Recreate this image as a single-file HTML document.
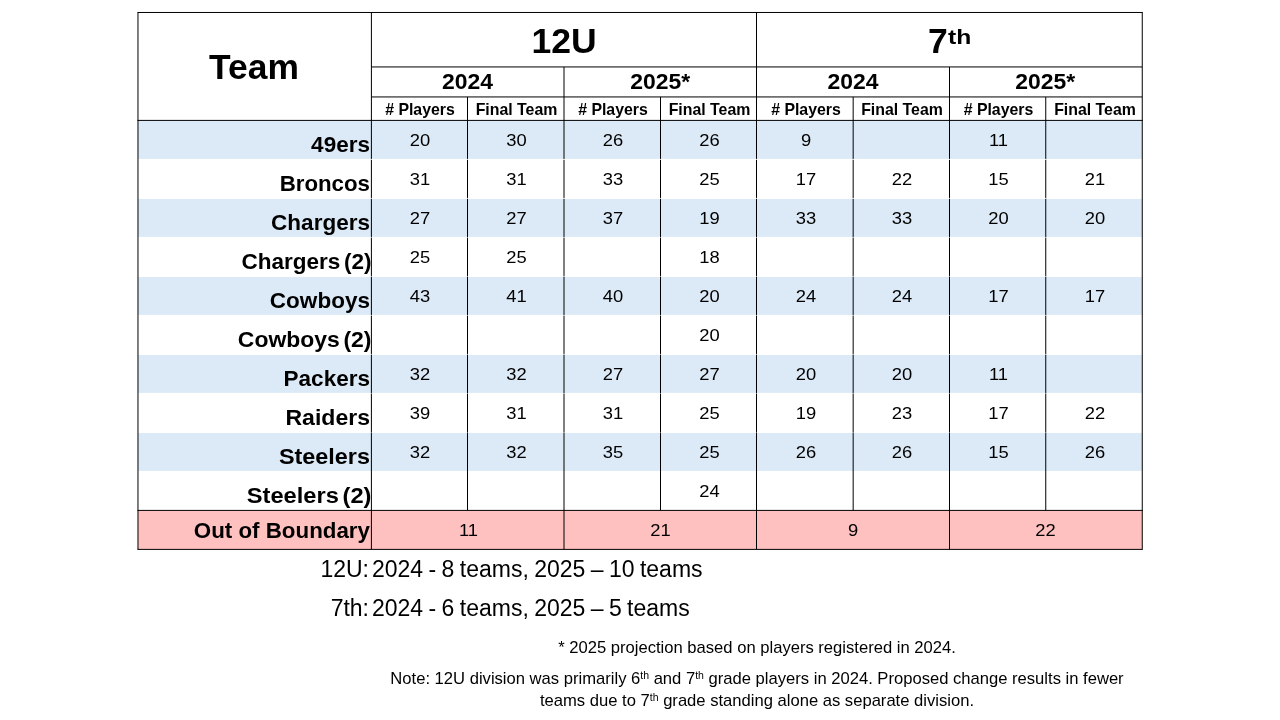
<!DOCTYPE html>
<html lang="en">
<head>
<meta charset="utf-8">
<title>Team counts: 12U and 7th</title>
<style>
*{box-sizing:border-box;margin:0;padding:0}
html,body{width:1280px;height:720px;background:#fff;overflow:hidden}
body{font-family:"Liberation Sans",sans-serif;color:#000}
.slide{position:relative;width:1280px;height:720px;background:#fff;overflow:hidden}
svg.rules{position:absolute;left:0;top:0;width:1280px;height:720px;display:block}
table.grid{position:absolute;left:138px;top:13px;width:1004px;border-collapse:separate;border-spacing:0;table-layout:fixed}
.grid th,.grid td{border:0;padding:0;text-align:center;vertical-align:top;font-weight:400;white-space:nowrap;overflow:hidden;position:relative}
.grid span{display:block;position:absolute;left:0;right:0;white-space:nowrap}
.h1 th{height:54px}
.h2 th{height:30px}
.h3 th{height:24px}
th.team{font-weight:700;font-size:35.4px}
th.team span{top:34px;line-height:40px;left:-1px}
th.div{font-weight:700;font-size:34.67px}
th.div span{top:8px;line-height:40px;transform:scaleX(1.025)}
th.div sup{display:inline-block;font-size:20.6px;line-height:0;vertical-align:baseline;position:relative;top:-9px;transform:scaleX(1.17);transform-origin:0 50%;margin-right:3px}
.h2 th{font-weight:700;font-size:22px}
.h2 th span{top:3px;line-height:24px;transform:scaleX(1.042)}
.h2 th.star span{left:-1.5px}
.h3 th{font-weight:700;font-size:16.2px}
.h3 th span{top:3px;line-height:18px;left:.5px;right:-.5px;transform:scaleX(0.98)}
.grid tbody th,.grid tbody td{height:39px}
tbody th.name{font-weight:700;font-size:21.3px;text-align:right}
tbody th.name span{right:1px;bottom:3px;line-height:24px;transform:scaleX(var(--sx,1.058));transform-origin:100% 50%}
tbody th.alt span{word-spacing:-2.5px;right:-.5px}
tbody td{font-size:17px}
.grid tbody td span{top:10px;line-height:20px;left:2px;transform:scaleX(1.08)}
tr.oob th.name span{bottom:7px}
.grid tr.oob td span{left:0}
.grid tr.oob td:nth-child(2) span{left:2px}
.sum{position:absolute;left:0;width:1280px;height:28px;font-size:23px;word-spacing:-1px;line-height:28px;white-space:nowrap;color:#000}
.sum .k{position:absolute;right:911px;text-align:right}
.sum .v{position:absolute;left:372px}
.s1{top:555px}
.s2{top:594px}
.note{position:absolute;left:0;width:1514px;text-align:center;font-size:16.6px;line-height:20px;white-space:nowrap;color:#000}
.note sup{font-size:10.5px;line-height:0;vertical-align:baseline;position:relative;top:-5px}
.n1{top:638px}
.n2{top:669px}
.n3{top:691px}
</style>
</head>
<body>
<div class="slide">
<svg class="rules" width="1280" height="720" viewBox="0 0 1280 720" aria-hidden="true">
<rect x="137.97" y="120.4" width="1004.28" height="39" fill="#dceaf7"/>
<rect x="137.97" y="198.4" width="1004.28" height="39" fill="#dceaf7"/>
<rect x="137.97" y="276.4" width="1004.28" height="39" fill="#dceaf7"/>
<rect x="137.97" y="354.4" width="1004.28" height="39" fill="#dceaf7"/>
<rect x="137.97" y="432.4" width="1004.28" height="39" fill="#dceaf7"/>
<rect x="137.97" y="510.4" width="1004.28" height="39" fill="#ffc0c0"/>
<line x1="137.97" x2="1142.25" y1="159.4" y2="159.4" stroke="#fff" stroke-width="1"/>
<line x1="137.97" x2="1142.25" y1="198.4" y2="198.4" stroke="#fff" stroke-width="1"/>
<line x1="137.97" x2="1142.25" y1="237.4" y2="237.4" stroke="#fff" stroke-width="1"/>
<line x1="137.97" x2="1142.25" y1="276.4" y2="276.4" stroke="#fff" stroke-width="1"/>
<line x1="137.97" x2="1142.25" y1="315.4" y2="315.4" stroke="#fff" stroke-width="1"/>
<line x1="137.97" x2="1142.25" y1="354.4" y2="354.4" stroke="#fff" stroke-width="1"/>
<line x1="137.97" x2="1142.25" y1="393.4" y2="393.4" stroke="#fff" stroke-width="1"/>
<line x1="137.97" x2="1142.25" y1="432.4" y2="432.4" stroke="#fff" stroke-width="1"/>
<line x1="137.97" x2="1142.25" y1="471.4" y2="471.4" stroke="#fff" stroke-width="1"/>
<g stroke="#000" stroke-width="1" fill="none">
<line x1="137.47" x2="1142.75" y1="12.47" y2="12.47"/>
<line x1="371.4" x2="1142.25" y1="66.94" y2="66.94"/>
<line x1="371.4" x2="1142.25" y1="96.94" y2="96.94"/>
<line x1="137.47" x2="1142.75" y1="120.4" y2="120.4"/>
<line x1="137.47" x2="1142.75" y1="510.4" y2="510.4"/>
<line x1="137.47" x2="1142.75" y1="549.4" y2="549.4"/>
<line x1="137.97" x2="137.97" y1="12.47" y2="549.4"/>
<line x1="371.4" x2="371.4" y1="12.47" y2="549.4"/>
<line x1="467.5" x2="467.5" y1="96.94" y2="510.4"/>
<line x1="564" x2="564" y1="66.94" y2="549.4"/>
<line x1="660.5" x2="660.5" y1="96.94" y2="510.4"/>
<line x1="756.5" x2="756.5" y1="12.47" y2="549.4"/>
<line x1="853.16" x2="853.16" y1="96.94" y2="510.4"/>
<line x1="949.5" x2="949.5" y1="66.94" y2="549.4"/>
<line x1="1045.75" x2="1045.75" y1="96.94" y2="510.4"/>
<line x1="1142.25" x2="1142.25" y1="12.47" y2="549.4"/>
</g>
<path d="M370.4 159.4h2 M466.5 159.4h2 M563 159.4h2 M659.5 159.4h2 M755.5 159.4h2 M852.16 159.4h2 M948.5 159.4h2 M1044.75 159.4h2" stroke="#fff" stroke-width="1" stroke-opacity="0.9" fill="none"/>
<path d="M370.4 198.4h2 M466.5 198.4h2 M563 198.4h2 M659.5 198.4h2 M755.5 198.4h2 M852.16 198.4h2 M948.5 198.4h2 M1044.75 198.4h2" stroke="#fff" stroke-width="1" stroke-opacity="0.8" fill="none"/>
<path d="M370.4 237.4h2 M466.5 237.4h2 M563 237.4h2 M659.5 237.4h2 M755.5 237.4h2 M852.16 237.4h2 M948.5 237.4h2 M1044.75 237.4h2" stroke="#fff" stroke-width="1" stroke-opacity="0.6" fill="none"/>
<path d="M370.4 276.4h2 M466.5 276.4h2 M563 276.4h2 M659.5 276.4h2 M755.5 276.4h2 M852.16 276.4h2 M948.5 276.4h2 M1044.75 276.4h2" stroke="#fff" stroke-width="1" stroke-opacity="0.6" fill="none"/>
<path d="M370.4 315.4h2 M466.5 315.4h2 M563 315.4h2 M659.5 315.4h2 M755.5 315.4h2 M852.16 315.4h2 M948.5 315.4h2 M1044.75 315.4h2" stroke="#fff" stroke-width="1" stroke-opacity="0.6" fill="none"/>
<path d="M370.4 354.4h2 M466.5 354.4h2 M563 354.4h2 M659.5 354.4h2 M755.5 354.4h2 M852.16 354.4h2 M948.5 354.4h2 M1044.75 354.4h2" stroke="#fff" stroke-width="1" stroke-opacity="0.6" fill="none"/>
<path d="M370.4 393.4h2 M466.5 393.4h2 M563 393.4h2 M659.5 393.4h2 M755.5 393.4h2 M852.16 393.4h2 M948.5 393.4h2 M1044.75 393.4h2" stroke="#fff" stroke-width="1" stroke-opacity="0.5" fill="none"/>
<path d="M370.4 432.4h2 M466.5 432.4h2 M563 432.4h2 M659.5 432.4h2 M755.5 432.4h2 M852.16 432.4h2 M948.5 432.4h2 M1044.75 432.4h2" stroke="#fff" stroke-width="1" stroke-opacity="0.4" fill="none"/>
</svg>
<table class="grid">
<colgroup><col style="width:233px"><col style="width:96px"><col style="width:97px"><col style="width:96px"><col style="width:97px"><col style="width:96px"><col style="width:96px"><col style="width:97px"><col style="width:96px"></colgroup>
<thead>
<tr class="h1"><th class="team" rowspan="3"><span>Team</span></th><th class="div" colspan="4"><span>12U</span></th><th class="div" colspan="4"><span>7<sup>th</sup></span></th></tr>
<tr class="h2"><th colspan="2"><span>2024</span></th><th class="star" colspan="2"><span>2025*</span></th><th colspan="2"><span>2024</span></th><th class="star" colspan="2"><span>2025*</span></th></tr>
<tr class="h3"><th class="pl"><span># Players</span></th><th class="ft"><span>Final Team</span></th><th class="pl"><span># Players</span></th><th class="ft"><span>Final Team</span></th><th class="pl"><span># Players</span></th><th class="ft"><span>Final Team</span></th><th class="pl"><span># Players</span></th><th class="ft"><span>Final Team</span></th></tr>
</thead>
<tbody>
<tr class="odd"><th class="name"><span>49ers</span></th><td><span>20</span></td><td><span>30</span></td><td><span>26</span></td><td><span>26</span></td><td><span>9</span></td><td><span></span></td><td><span>11</span></td><td><span></span></td></tr>
<tr class="even"><th class="name"><span style="--sx:1.046">Broncos</span></th><td><span>31</span></td><td><span>31</span></td><td><span>33</span></td><td><span>25</span></td><td><span>17</span></td><td><span>22</span></td><td><span>15</span></td><td><span>21</span></td></tr>
<tr class="odd"><th class="name"><span>Chargers</span></th><td><span>27</span></td><td><span>27</span></td><td><span>37</span></td><td><span>19</span></td><td><span>33</span></td><td><span>33</span></td><td><span>20</span></td><td><span>20</span></td></tr>
<tr class="even"><th class="name alt"><span>Chargers (2)</span></th><td><span>25</span></td><td><span>25</span></td><td><span></span></td><td><span>18</span></td><td><span></span></td><td><span></span></td><td><span></span></td><td><span></span></td></tr>
<tr class="odd"><th class="name"><span>Cowboys</span></th><td><span>43</span></td><td><span>41</span></td><td><span>40</span></td><td><span>20</span></td><td><span>24</span></td><td><span>24</span></td><td><span>17</span></td><td><span>17</span></td></tr>
<tr class="even"><th class="name alt"><span style="--sx:1.077">Cowboys (2)</span></th><td><span></span></td><td><span></span></td><td><span></span></td><td><span>20</span></td><td><span></span></td><td><span></span></td><td><span></span></td><td><span></span></td></tr>
<tr class="odd"><th class="name"><span>Packers</span></th><td><span>32</span></td><td><span>32</span></td><td><span>27</span></td><td><span>27</span></td><td><span>20</span></td><td><span>20</span></td><td><span>11</span></td><td><span></span></td></tr>
<tr class="even"><th class="name"><span style="--sx:1.082">Raiders</span></th><td><span>39</span></td><td><span>31</span></td><td><span>31</span></td><td><span>25</span></td><td><span>19</span></td><td><span>23</span></td><td><span>17</span></td><td><span>22</span></td></tr>
<tr class="odd"><th class="name"><span style="--sx:1.099">Steelers</span></th><td><span>32</span></td><td><span>32</span></td><td><span>35</span></td><td><span>25</span></td><td><span>26</span></td><td><span>26</span></td><td><span>15</span></td><td><span>26</span></td></tr>
<tr class="even"><th class="name alt"><span style="--sx:1.11">Steelers (2)</span></th><td><span></span></td><td><span></span></td><td><span></span></td><td><span>24</span></td><td><span></span></td><td><span></span></td><td><span></span></td><td><span></span></td></tr>
<tr class="oob"><th class="name"><span style="--sx:1.049">Out of Boundary</span></th><td colspan="2"><span>11</span></td><td colspan="2"><span>21</span></td><td colspan="2"><span>9</span></td><td colspan="2"><span>22</span></td></tr>
</tbody>
</table>
<div class="sum s1"><span class="k">12U:</span><span class="v">2024 - 8 teams, 2025 – 10 teams</span></div>
<div class="sum s2"><span class="k">7th:</span><span class="v">2024 - 6 teams, 2025 – 5 teams</span></div>
<p class="note n1">* 2025 projection based on players registered in 2024.</p>
<p class="note n2">Note: 12U division was primarily 6<sup>th</sup> and 7<sup>th</sup> grade players in 2024. Proposed change results in fewer</p>
<p class="note n3">teams due to 7<sup>th</sup> grade standing alone as separate division.</p>
</div>
</body>
</html>
